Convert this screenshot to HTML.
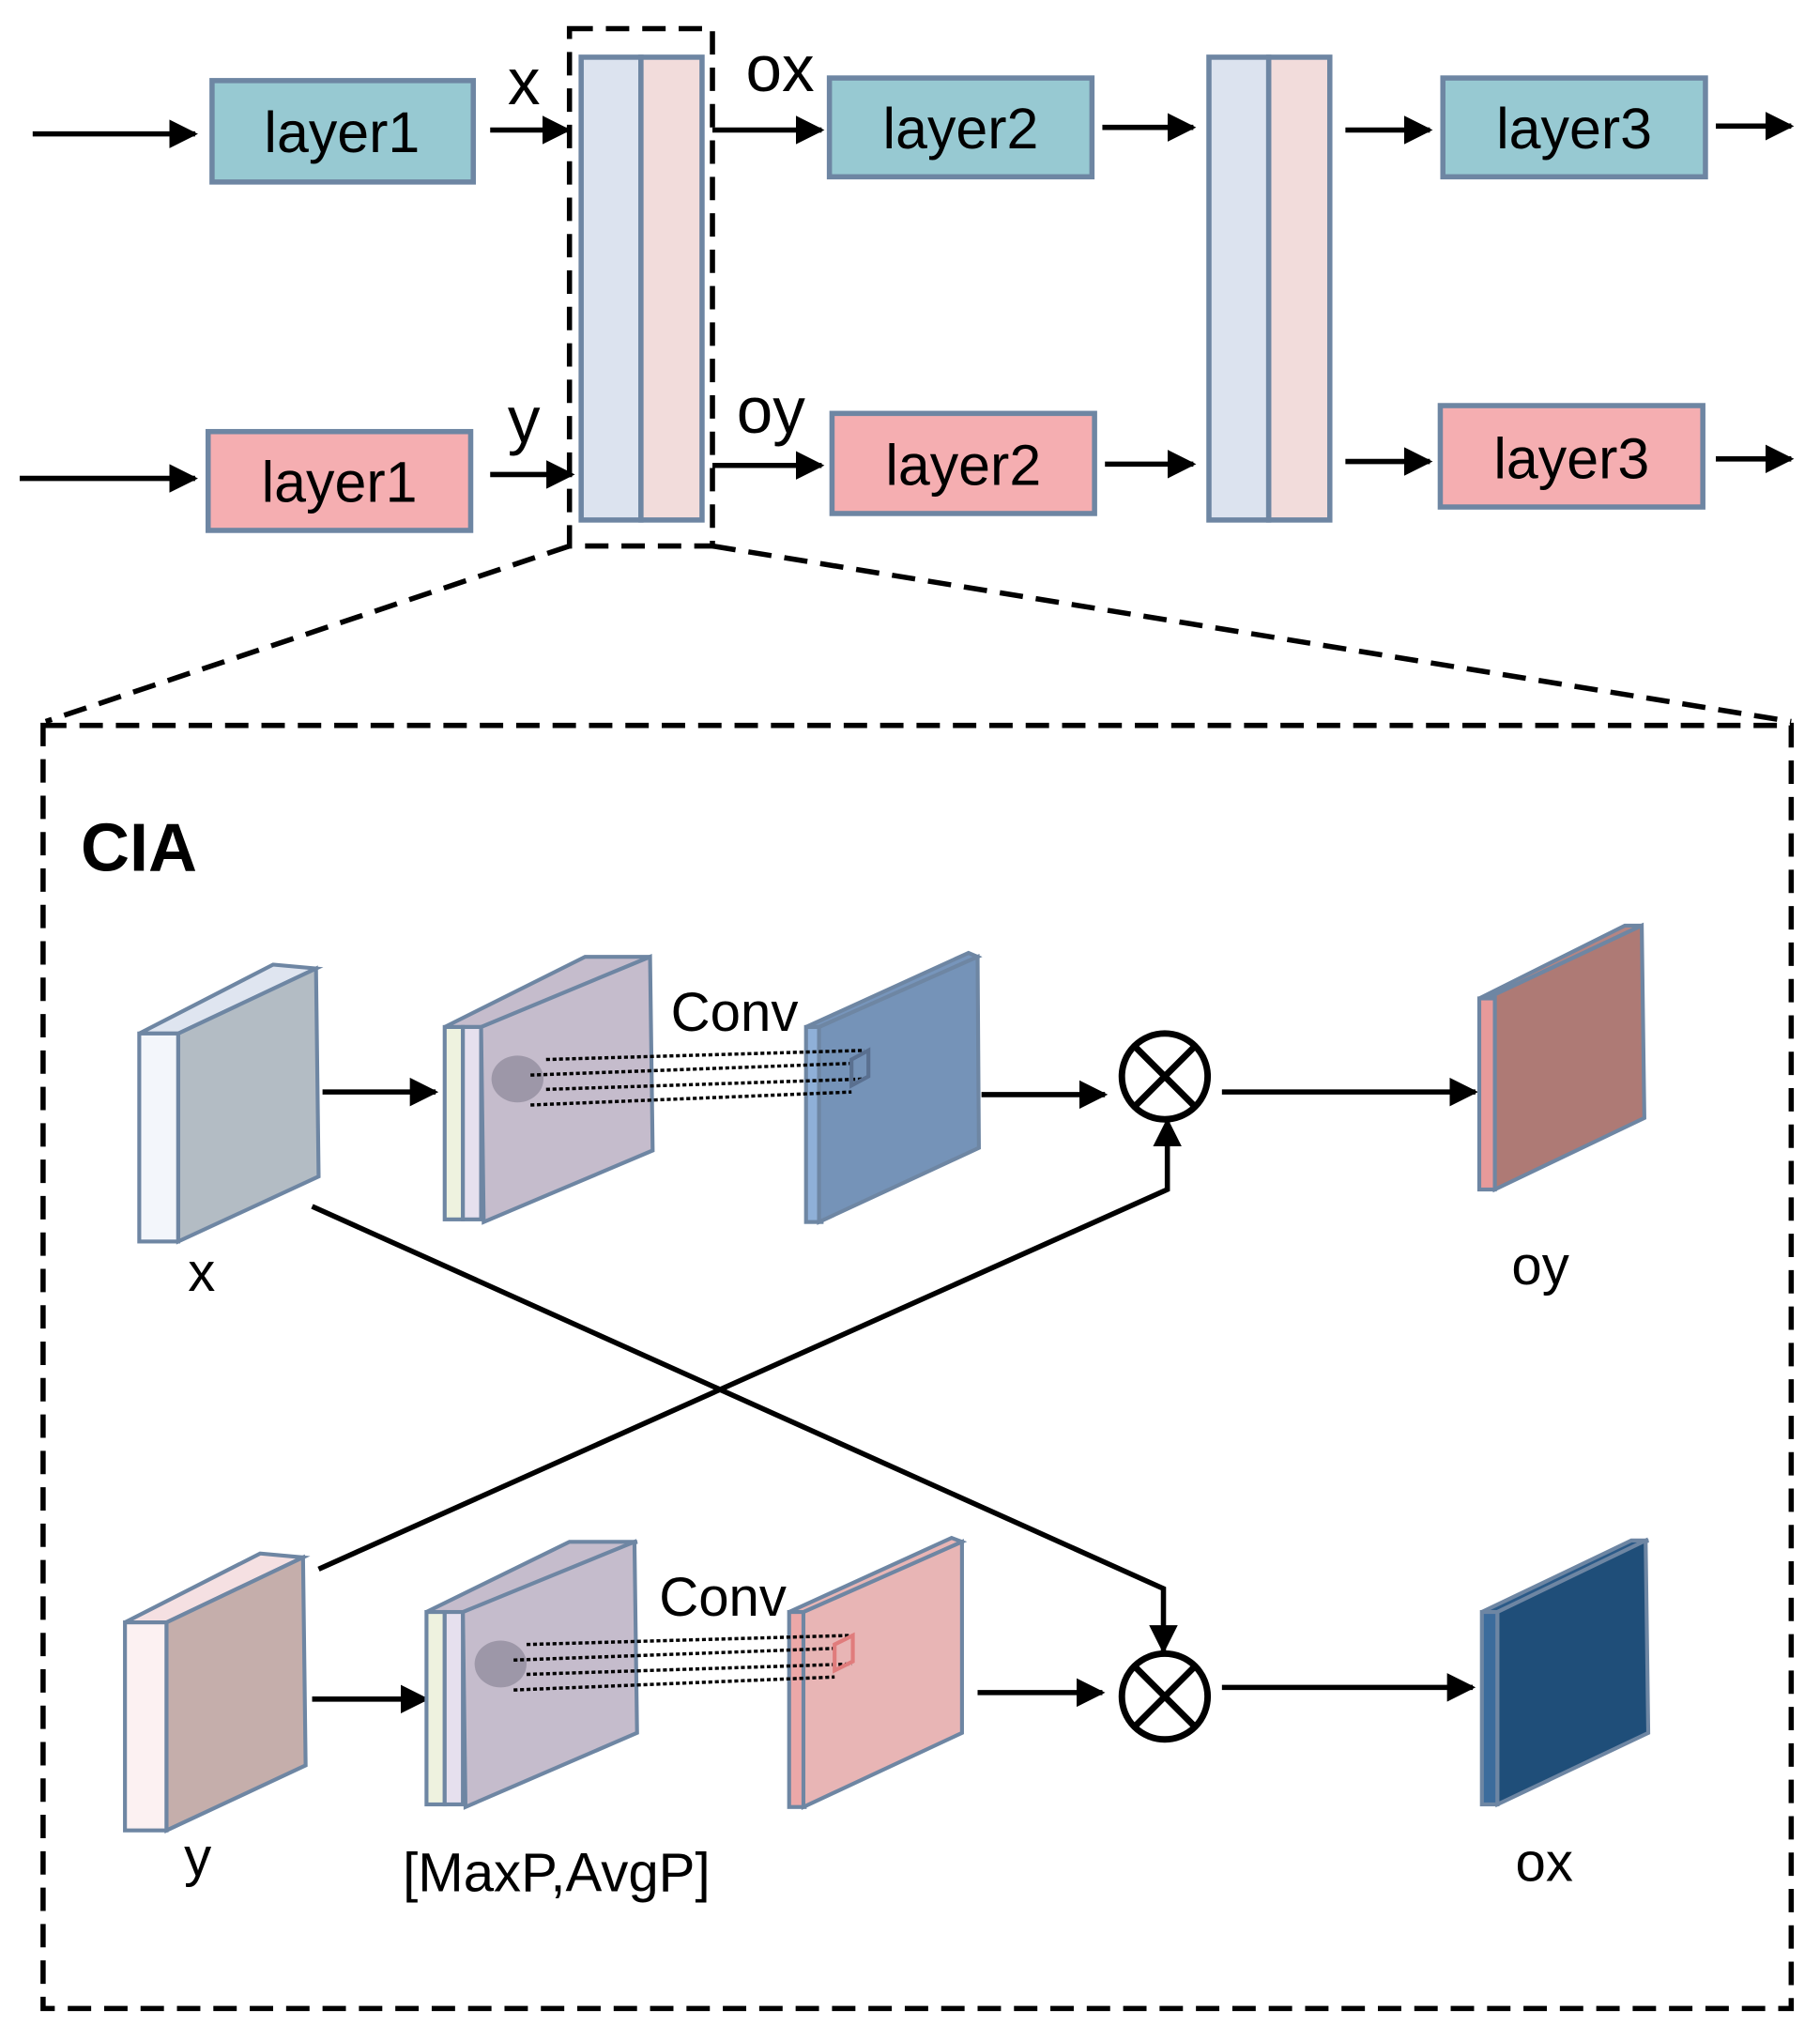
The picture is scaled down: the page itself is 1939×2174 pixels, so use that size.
<!DOCTYPE html>
<html><head><meta charset="utf-8"><style>html,body{margin:0;padding:0;background:#fff}svg{display:block}text{font-family:"Liberation Sans",sans-serif}</style></head>
<body>
<svg width="1939" height="2174" viewBox="0 0 1400 1570" xmlns="http://www.w3.org/2000/svg">
<defs>
<marker id="a" markerWidth="10" markerHeight="10" refX="8" refY="5" orient="auto" markerUnits="userSpaceOnUse" viewBox="0 0 10 10"><path d="M0,0 L10,5 L0,10z" fill="#000"/></marker>
<marker id="b" viewBox="0 0 10 10" refX="9" refY="5" markerWidth="22" markerHeight="22" orient="auto" markerUnits="userSpaceOnUse"><path d="M0,0 L10,5 L0,10z" fill="#000"/></marker>
</defs>
<g stroke="#000" stroke-width="4" fill="none" marker-end="url(#b)">
<line x1="25" y1="103" x2="150" y2="103"/>
<line x1="377" y1="100" x2="437" y2="100"/>
<line x1="548" y1="100" x2="632" y2="100"/>
<line x1="848" y1="98" x2="918" y2="98"/>
<line x1="1035" y1="100" x2="1100" y2="100"/>
<line x1="1320" y1="97" x2="1378" y2="97"/>
<line x1="15" y1="368" x2="150" y2="368"/>
<line x1="377" y1="365" x2="440" y2="365"/>
<line x1="548" y1="358" x2="632" y2="358"/>
<line x1="850" y1="357" x2="918" y2="357"/>
<line x1="1035" y1="355" x2="1100" y2="355"/>
<line x1="1320" y1="353" x2="1378" y2="353"/>
<line x1="248" y1="840" x2="335" y2="840"/>
<line x1="755" y1="842" x2="850" y2="842"/>
<line x1="940" y1="840" x2="1135" y2="840"/>
<line x1="240" y1="1307" x2="328" y2="1307"/>
<line x1="752" y1="1302" x2="848" y2="1302"/>
<line x1="940" y1="1298" x2="1133" y2="1298"/>
<polyline points="240,928 895,1222 895,1270"/>
<polyline points="245,1207 898,915 898,862"/>
</g>
<g stroke="#6e86a3" stroke-width="4">
<rect x="163" y="62" width="201" height="78" fill="#97c9d2"/>
<rect x="160" y="332" width="202" height="76" fill="#f5aeb1"/>
<rect x="638" y="60" width="202" height="76" fill="#97c9d2"/>
<rect x="640" y="318" width="202" height="77" fill="#f5aeb1"/>
<rect x="1110" y="60" width="202" height="76" fill="#97c9d2"/>
<rect x="1108" y="312" width="202" height="78" fill="#f5aeb1"/>
<rect x="447" y="44" width="46" height="356" fill="#dce3ef"/>
<rect x="493" y="44" width="47" height="356" fill="#f2dcdb"/>
<rect x="930" y="44" width="46" height="356" fill="#dce3ef"/>
<rect x="976" y="44" width="47" height="356" fill="#f2dcdb"/>
</g>
<g font-size="44" text-anchor="middle" fill="#000">
<text x="263" y="117">layer1</text>
<text x="261" y="386">layer1</text>
<text x="739" y="114">layer2</text>
<text x="741" y="373">layer2</text>
<text x="1211" y="114">layer3</text>
<text x="1209" y="368">layer3</text>
<text x="403" y="80" font-size="50">x</text>
<text x="403" y="340" font-size="50">y</text>
<text x="600" y="70" font-size="50">ox</text>
<text x="593" y="333" font-size="50">oy</text>
</g>
<g stroke="#000" stroke-width="4" fill="none" stroke-dasharray="18,10">
<rect x="438" y="22" width="110" height="398"/>
<line x1="438" y1="420" x2="35" y2="555"/>
<line x1="548" y1="420" x2="1378" y2="555"/>
<rect x="33" y="558" width="1345" height="987"/>
</g>
<text x="62" y="670" font-size="52" font-weight="bold">CIA</text>
<!-- x cube -->
<g stroke="#6e86a3" stroke-width="3">
<polygon points="107,795 210,742 243,745 137,795" fill="#dfe5f0"/>
<rect x="107" y="795" width="30" height="160" fill="#f3f6fb"/>
<polygon points="137,795 243,745 245,905 137,955" fill="#b3bcc4"/>
<!-- y cube -->
<polygon points="96,1248 200,1195 233,1198 128,1248" fill="#f5e0e2"/>
<rect x="96" y="1248" width="32" height="160" fill="#fcf1f2"/>
<polygon points="128,1248 233,1198 235,1358 128,1408" fill="#c5aeab"/>
<!-- stack 1 -->
<polygon points="342,790 450,736 500,736 372,790" fill="#c5bccc"/>
<rect x="342" y="790" width="14" height="148" fill="#eef2df"/>
<rect x="356" y="790" width="14" height="148" fill="#e6e0ee"/>
<polygon points="370,790 500,736 502,885 372,940" fill="#c5bccc"/>
<!-- stack 2 -->
<polygon points="328,1240 438,1186 490,1186 358,1240" fill="#c5bccc"/>
<rect x="328" y="1240" width="14" height="148" fill="#eef2df"/>
<rect x="342" y="1240" width="14" height="148" fill="#e6e0ee"/>
<polygon points="356,1240 488,1186 490,1333 358,1390" fill="#c5bccc"/>
<!-- blue plane -->
<polygon points="620,790 745,733 752,736 632,790" fill="#7795bb"/>
<rect x="620" y="790" width="12" height="150" fill="#8fb0d8"/>
<polygon points="630,790 752,736 753,883 630,940" fill="#7593b8"/>
<!-- pink plane -->
<polygon points="607,1240 732,1183 740,1186 620,1240" fill="#e8b5b5"/>
<rect x="607" y="1240" width="12" height="150" fill="#eca8a8"/>
<polygon points="618,1240 740,1186 740,1333 618,1390" fill="#e8b5b5"/>
<!-- oy -->
<polygon points="1138,768 1250,712 1263,712 1150,765" fill="#b58583"/>
<rect x="1138" y="768" width="12" height="147" fill="#e79a9a"/>
<polygon points="1150,765 1263,712 1265,860 1150,915" fill="#ae7a75"/>
<!-- ox -->
<polygon points="1140,1240 1255,1185 1268,1185 1152,1240" fill="#2b5a88"/>
<rect x="1140" y="1240" width="12" height="148" fill="#3c6c9c"/>
<polygon points="1152,1240 1266,1185 1268,1333 1152,1388" fill="#1f4e79"/>
</g>
<ellipse cx="398" cy="830" rx="20" ry="18" fill="#9d97a8"/>
<ellipse cx="385" cy="1280" rx="20" ry="18" fill="#9d97a8"/>
<g stroke="#000" stroke-width="2.5" stroke-dasharray="3,2">
<line x1="420" y1="815" x2="665" y2="808"/><line x1="408" y1="827" x2="655" y2="818"/>
<line x1="420" y1="838" x2="665" y2="830"/><line x1="408" y1="850" x2="655" y2="840"/>
<line x1="405" y1="1265" x2="655" y2="1258"/><line x1="395" y1="1277" x2="642" y2="1268"/>
<line x1="405" y1="1288" x2="655" y2="1280"/><line x1="395" y1="1300" x2="642" y2="1290"/>
</g>
<polygon points="655,815 668,808 668,828 655,835" fill="none" stroke="#5a7090" stroke-width="3"/>
<polygon points="642,1265 656,1258 656,1278 642,1285" fill="none" stroke="#e07c7c" stroke-width="3"/>
<g stroke="#000" stroke-width="5" fill="#fff">
<circle cx="896" cy="828" r="33"/>
<circle cx="896" cy="1305" r="33"/>
<path d="M873,805 L919,851 M919,805 L873,851 M873,1282 L919,1328 M919,1282 L873,1328"/>
</g>
<g font-size="42" text-anchor="middle">
<text x="565" y="793">Conv</text>
<text x="556" y="1243">Conv</text>
<text x="155" y="993">x</text>
<text x="1185" y="988">oy</text>
<text x="152" y="1443">y</text>
<text x="428" y="1455">[MaxP,AvgP]</text>
<text x="1188" y="1447">ox</text>
</g>
</svg>
</body></html>
